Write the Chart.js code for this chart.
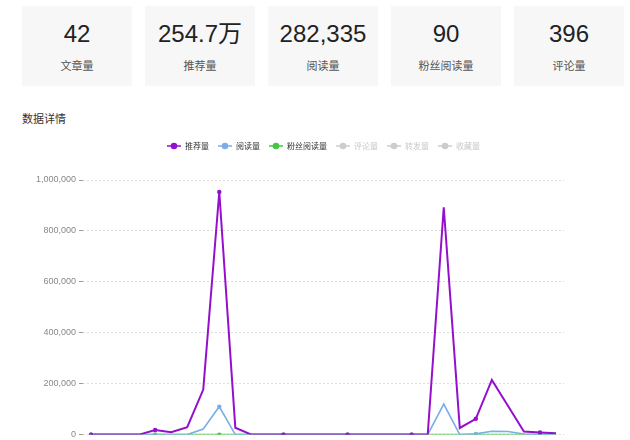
<!DOCTYPE html>
<html>
<head>
<meta charset="utf-8">
<script src="https://cdn.jsdelivr.net/npm/chart.js@4.4.0/dist/chart.umd.min.js"></script>
<style>
  body { margin: 0; background: #fff; overflow: hidden; font-family: "Liberation Sans", "Noto Sans CJK SC", sans-serif; }
  .card { position: absolute; top: 6px; width: 110px; height: 80px; background: #f7f7f7; text-align: center; }
  .card .num { position: absolute; left: 0; right: 0; top: 13px; font-size: 24px; color: #222; line-height: 30px; }
  .card .lbl { position: absolute; left: 0; right: 0; top: 51px; font-size: 11px; color: #555; line-height: 16px; font-family: "Noto Sans CJK SC", sans-serif; }
  #title { position: absolute; left: 22px; top: 110px; font-size: 11px; color: #333; font-family: "Noto Sans CJK SC", sans-serif; }
  #wrap { position: absolute; left: 0; top: 131px; width: 630px; height: 312px; }
</style>
</head>
<body>
<div id="cards"></div>
<div id="title">数据详情</div>
<div id="wrap"><canvas id="myChart"></canvas></div>
<script>
'use strict';

// top summary cards
let statValues = ['42', '254.7万', '282,335', '90', '396'];
let statNames = ['文章量', '推荐量', '阅读量', '粉丝阅读量', '评论量'];

// chart data, one entry per article
let categories = [];
for (let i = 1; i <= 30; i++) categories.push('第' + i + '篇');
let recommend = [0, 0, 0, 0, 18000, 9000, 29000, 177000, 953000, 27000,
  0, 0, 0, 0, 0, 0, 0, 0, 0, 0, 0, 0,
  893000, 26000, 62000, 215000, 113000, 12000, 8000, 5000];
let reads = [0, 0, 0, 0, 0, 0, 0, 22000, 110000, 0,
  0, 0, 0, 0, 0, 0, 0, 0, 0, 0, 0, 0,
  120000, 0, 3000, 13000, 12000, 2335, 0, 0];
let fans = [0, 0, 0, 0, 0, 0, 0, 0, 20, 0,
  0, 0, 0, 0, 0, 0, 0, 0, 0, 0, 0, 0,
  30, 0, 0, 20, 20, 0, 0, 0];
let seriesNames = ['推荐量', '阅读量', '粉丝阅读量', '评论量', '转发量', '收藏量'];
let seriesColors = ['#950fcc', '#7aaee6', '#44c744', '#cccccc', '#cccccc', '#cccccc'];
let yTicks = [0, 200000, 400000, 600000, 800000, 1000000];

let cardsEl = document.getElementById('cards');
for (let i = 0; i < statValues.length; i++) {
  let card = document.createElement('div');
  card.className = 'card';
  card.style.left = (22 + i * 123) + 'px';
  card.innerHTML = '<div class="num">' + statValues[i] + '</div><div class="lbl">' + statNames[i] + '</div>';
  cardsEl.appendChild(card);
}

// legend icon: short line with a dot in the middle
function makeIcon(color) {
  let c = document.createElement('canvas');
  c.width = 14; c.height = 8;
  let g = c.getContext('2d');
  g.strokeStyle = color;
  g.lineWidth = 1.5;
  g.beginPath(); g.moveTo(0, 4); g.lineTo(14, 4); g.stroke();
  g.fillStyle = color;
  g.beginPath(); g.arc(7, 4, 3.3, 0, Math.PI * 2); g.fill();
  return c;
}

function dotRadius(ctx) {
  return ctx.index % 4 === 0 ? 2.2 : 0;
}

let lineData = [recommend, reads, fans];
let datasets = [];
for (let i = 0; i < lineData.length; i++) {
  datasets.push({
    label: seriesNames[i],
    data: lineData[i],
    borderColor: seriesColors[i],
    backgroundColor: seriesColors[i],
    borderWidth: i === 0 ? 2 : 1.6,
    pointRadius: dotRadius,
    pointHoverRadius: dotRadius,
    pointBorderWidth: 0,
    tension: 0,
    fill: false
  });
}

let legendHeight = {
  id: 'legendHeight',
  beforeInit(chart) {
    let fit = chart.legend.fit;
    chart.legend.fit = function () {
      fit.bind(chart.legend)();
      this.height = 47;
    };
  }
};

let ctx = document.getElementById('myChart').getContext('2d');
let chart = new Chart(ctx, {
  type: 'line',
  data: { labels: categories, datasets: datasets },
  plugins: [legendHeight],
  options: {
    responsive: true,
    maintainAspectRatio: false,
    animation: false,
    events: [],
    layout: { padding: { left: 0, right: 66, top: 2, bottom: 0 } },
    plugins: {
      tooltip: { enabled: false },
      legend: {
        fullSize: false,
        onClick: function () {},
        labels: {
          usePointStyle: true,
          pointStyleWidth: 14,
          boxHeight: 8,
          padding: 9,
          color: '#333',
          font: { size: 8, family: '"Noto Sans CJK SC", sans-serif' },
          generateLabels: function () {
            return seriesNames.map(function (name, i) {
              return {
                text: name,
                pointStyle: makeIcon(seriesColors[i]),
                fillStyle: seriesColors[i],
                strokeStyle: seriesColors[i],
                fontColor: i < 3 ? '#333' : '#c8c8c8',
                hidden: false,
                lineWidth: 0
              };
            });
          }
        }
      }
    },
    scales: {
      x: {
        offset: true,
        grid: { display: false },
        border: { display: false },
        ticks: { display: false }
      },
      y: {
        min: 0,
        max: 1000000,
        afterBuildTicks: function (scale) {
          scale.ticks = yTicks.map(function (v) { return { value: v }; });
        },
        afterFit: function (scale) { scale.width = 83; },
        border: { display: false, dash: [2, 2] },
        grid: {
          color: '#dcdcdc',
          tickColor: '#999',
          tickLength: 4,
          tickBorderDash: [],
          lineWidth: 1
        },
        ticks: {
          color: '#888',
          padding: 3,
          font: { size: 9, family: '"Liberation Sans", sans-serif' },
          callback: function (v) { return v.toLocaleString('en-US'); }
        }
      }
    }
  }
});
</script>
</body>
</html>
